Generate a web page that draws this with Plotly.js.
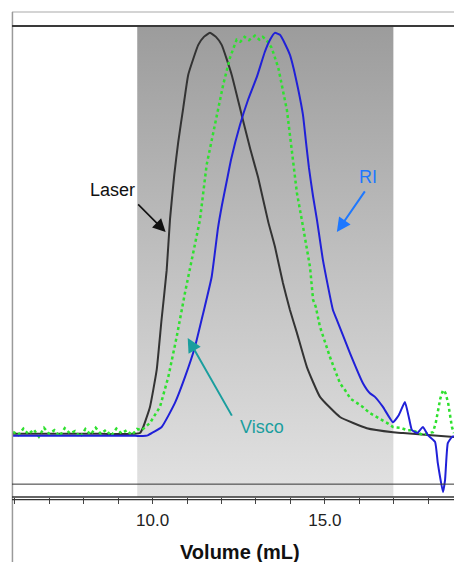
<!DOCTYPE html>
<html>
<head>
<meta charset="utf-8">
<script src="https://cdn.plot.ly/plotly-3.0.1.min.js"></script>
<style>
html,body{margin:0;padding:0;background:#fff;overflow:hidden;}
#chart{width:454px;height:562px;}
</style>
</head>
<body>
<div id="chart"></div>
<script>
// Volume (mL) and normalised detector response
const laserX = [5.92, 7.0, 8.5, 9.5, 9.634, 9.73, 9.925, 10.12, 10.26, 10.41, 10.505, 10.63, 10.746, 10.89, 11.036, 11.327, 11.49, 11.666, 11.84, 12.006, 12.296, 12.586, 12.827, 13.068, 13.358, 13.553, 13.785, 13.988, 14.19, 14.48, 14.86, 15.44, 16.22, 16.98, 17.27, 18.0, 18.75];
const laserY = [0.003, 0.003, 0.003, 0.003, 0.005, 0.02, 0.07, 0.162, 0.286, 0.41, 0.535, 0.647, 0.729, 0.813, 0.896, 0.97, 0.99, 1.0, 0.99, 0.97, 0.896, 0.796, 0.714, 0.639, 0.53, 0.468, 0.378, 0.311, 0.254, 0.169, 0.095, 0.045, 0.017, 0.007, 0.005, 0.0, -0.005];

const viscoX = [5.95, 6.1, 6.25, 6.4, 6.55, 6.7, 6.85, 7.0, 7.15, 7.3, 7.45, 7.6, 7.75, 7.9, 8.05, 8.2, 8.35, 8.5, 8.65, 8.8, 8.95, 9.1, 9.25, 9.4, 9.55,
  9.684, 9.925, 10.215, 10.456, 10.7, 10.94, 11.18, 11.376, 11.57, 11.81, 12.05, 12.247, 12.44, 12.55, 12.67, 12.8, 12.97, 13.1, 13.2, 13.31, 13.457, 13.65, 13.79, 13.9, 14.075, 14.19, 14.37, 14.57, 14.66, 14.74, 14.86, 15.0, 15.15, 15.3, 15.44, 15.6, 15.75, 15.93, 16.1, 16.3, 16.51, 16.7, 16.85, 16.98, 17.2, 17.4, 17.56, 17.7, 17.85, 18.0, 18.14, 18.22, 18.28, 18.35, 18.43, 18.5, 18.58, 18.65, 18.69, 18.75];
const viscoY = [0.008, 0.0, 0.016, 0.002, 0.014, -0.004, 0.018, 0.003, 0.012, -0.003, 0.017, 0.004, 0.01, -0.005, 0.015, 0.001, 0.018, 0.003, 0.013, -0.002, 0.016, 0.004, 0.012, 0.0, 0.015,
  0.012, 0.03, 0.07, 0.144, 0.244, 0.353, 0.453, 0.535, 0.672, 0.771, 0.871, 0.938, 0.983, 0.978, 0.99, 0.982, 0.993, 0.983, 0.99, 0.982, 0.963, 0.913, 0.853, 0.808, 0.684, 0.602, 0.517, 0.418, 0.336, 0.318, 0.269, 0.23, 0.194, 0.16, 0.129, 0.11, 0.09, 0.08, 0.07, 0.055, 0.045, 0.035, 0.028, 0.02, 0.018, 0.012, 0.012, 0.006, 0.0, 0.005, 0.007, 0.03, 0.062, 0.09, 0.112, 0.105, 0.08, 0.04, 0.02, 0.005];

const riX = [5.92, 7.0, 8.5, 9.5, 9.8, 9.875, 10.264, 10.65, 10.94, 11.23, 11.47, 11.715, 11.9, 12.015, 12.16, 12.276, 12.537, 12.77, 13.03, 13.26, 13.41, 13.55, 13.698, 13.843, 13.988, 14.104, 14.22, 14.366, 14.453, 14.54, 14.656, 14.772, 14.946, 15.236, 15.352, 15.73, 16.107, 16.31, 16.455, 16.687, 16.977, 17.15, 17.326, 17.45, 17.53, 17.68, 17.85, 17.99, 18.2, 18.28, 18.43, 18.49, 18.57, 18.69, 18.75];
const riY = [-0.002, -0.002, -0.002, -0.002, -0.002, 0.0, 0.02, 0.08, 0.144, 0.219, 0.303, 0.393, 0.515, 0.572, 0.634, 0.684, 0.771, 0.833, 0.891, 0.953, 0.983, 1.0, 0.995, 0.973, 0.945, 0.908, 0.863, 0.796, 0.729, 0.664, 0.595, 0.535, 0.435, 0.311, 0.286, 0.204, 0.129, 0.104, 0.095, 0.07, 0.032, 0.05, 0.082, 0.04, 0.012, 0.005, 0.02, 0.0, -0.017, -0.07, -0.142, -0.112, -0.02, -0.005, -0.003];

const shadeRange = [9.555, 16.99];
const tickVals = [6, 7, 8, 9, 10, 11, 12, 13, 14, 15, 16, 17, 18];
const tickText = ['', '', '', '', '10.0', '', '', '', '', '15.0', '', '', ''];
const xRange = [5.92, 18.75];
const yRange = [-0.154, 1.017];
const lowerLineY = -0.122;

const FONT = 'Liberation Sans, Arial, sans-serif';

const traces = [
  {
    x: [shadeRange[0], shadeRange[0], shadeRange[1], shadeRange[1], shadeRange[0]],
    y: [yRange[0], yRange[1], yRange[1], yRange[0], yRange[0]],
    mode: 'lines', line: {width: 0}, fill: 'toself',
    fillgradient: {type: 'vertical', colorscale: [[0, '#e2e2e2'], [0.5, '#c0c0c0'], [1, '#9c9c9c']]},
    hoverinfo: 'skip', showlegend: false
  },
  {x: laserX, y: laserY, mode: 'lines', line: {color: '#333333', width: 2, shape: 'spline', smoothing: 0.4}, showlegend: false},
  {x: viscoX, y: viscoY, mode: 'lines', line: {color: '#2fe02f', width: 2.5, dash: 'dot'}, showlegend: false},
  {x: riX, y: riY, mode: 'lines', line: {color: '#2020d8', width: 2, shape: 'spline', smoothing: 0.4}, showlegend: false}
];

const plotH = 471;
const layout = {
  width: 454, height: 562,
  margin: {l: 12, r: 0, t: 26, b: 65},
  paper_bgcolor: '#ffffff', plot_bgcolor: '#ffffff',
  showlegend: false,
  xaxis: {
    range: xRange, tickvals: tickVals, ticktext: tickText,
    ticks: 'outside', ticklen: 6, tickwidth: 1, tickcolor: '#444',
    ticklabelstandoff: 2,
    showgrid: false, zeroline: false, showline: false,
    tickfont: {family: FONT, size: 17, color: '#222'}
  },
  yaxis: {range: yRange, visible: false, showgrid: false, zeroline: false},
  shapes: [
    {type: 'line', xref: 'paper', yref: 'paper', x0: 0, x1: 1.05, y0: 1 + 14/plotH, y1: 1 + 14/plotH, line: {color: '#aaaaaa', width: 1.2}},
    {type: 'line', xref: 'paper', yref: 'paper', x0: 0.001, x1: 0.001, y0: 1 + 14/plotH, y1: -70/plotH, line: {color: '#9a9a9a', width: 1.5}},
    {type: 'line', xref: 'paper', yref: 'paper', x0: 0, x1: 1.05, y0: 1, y1: 1, line: {color: '#3a3a3a', width: 2}},
    {type: 'line', xref: 'paper', yref: 'y', x0: 0, x1: 1.05, y0: lowerLineY, y1: lowerLineY, line: {color: '#333', width: 1}},
    {type: 'line', xref: 'paper', yref: 'paper', x0: 0, x1: 1.05, y0: 0, y1: 0, line: {color: '#333', width: 1.3}},
    {type: 'line', xref: 'paper', yref: 'paper', x0: 0, x1: 1.05, y0: -2.6/plotH, y1: -2.6/plotH, line: {color: '#333', width: 1.3}}
  ],
  annotations: [
    {xref: 'paper', yref: 'paper', x: 0.516, y: -55/plotH, text: '<b>Volume (mL)</b>', showarrow: false,
     font: {family: FONT, size: 20, color: '#111'}, xanchor: 'center', yanchor: 'middle'},
    {x: 8.84, y: 0.609, text: 'Laser', showarrow: false, font: {family: FONT, size: 18, color: '#111'}},
    {x: 10.38, y: 0.505, text: '', showarrow: true, ax: -29, ay: -29, arrowhead: 2, arrowsize: 1.6, arrowwidth: 1.6, arrowcolor: '#111'},
    {x: 16.25, y: 0.642, text: 'RI', showarrow: false, font: {family: FONT, size: 18, color: '#1e78ff'}},
    {x: 15.35, y: 0.505, text: '', showarrow: true, ax: 29, ay: -42, arrowhead: 2, arrowsize: 1.4, arrowwidth: 2, arrowcolor: '#1e78ff'},
    {x: 13.17, y: 0.02, text: 'Visco', showarrow: false, font: {family: FONT, size: 18, color: '#1a9e9e'}},
    {x: 11.02, y: 0.241, text: '', showarrow: true, ax: 45, ay: 79, arrowhead: 2, arrowsize: 1.4, arrowwidth: 2, arrowcolor: '#1a9e9e'}
  ]
};

Plotly.newPlot('chart', traces, layout, {displayModeBar: false, staticPlot: true});
</script>
</body>
</html>
